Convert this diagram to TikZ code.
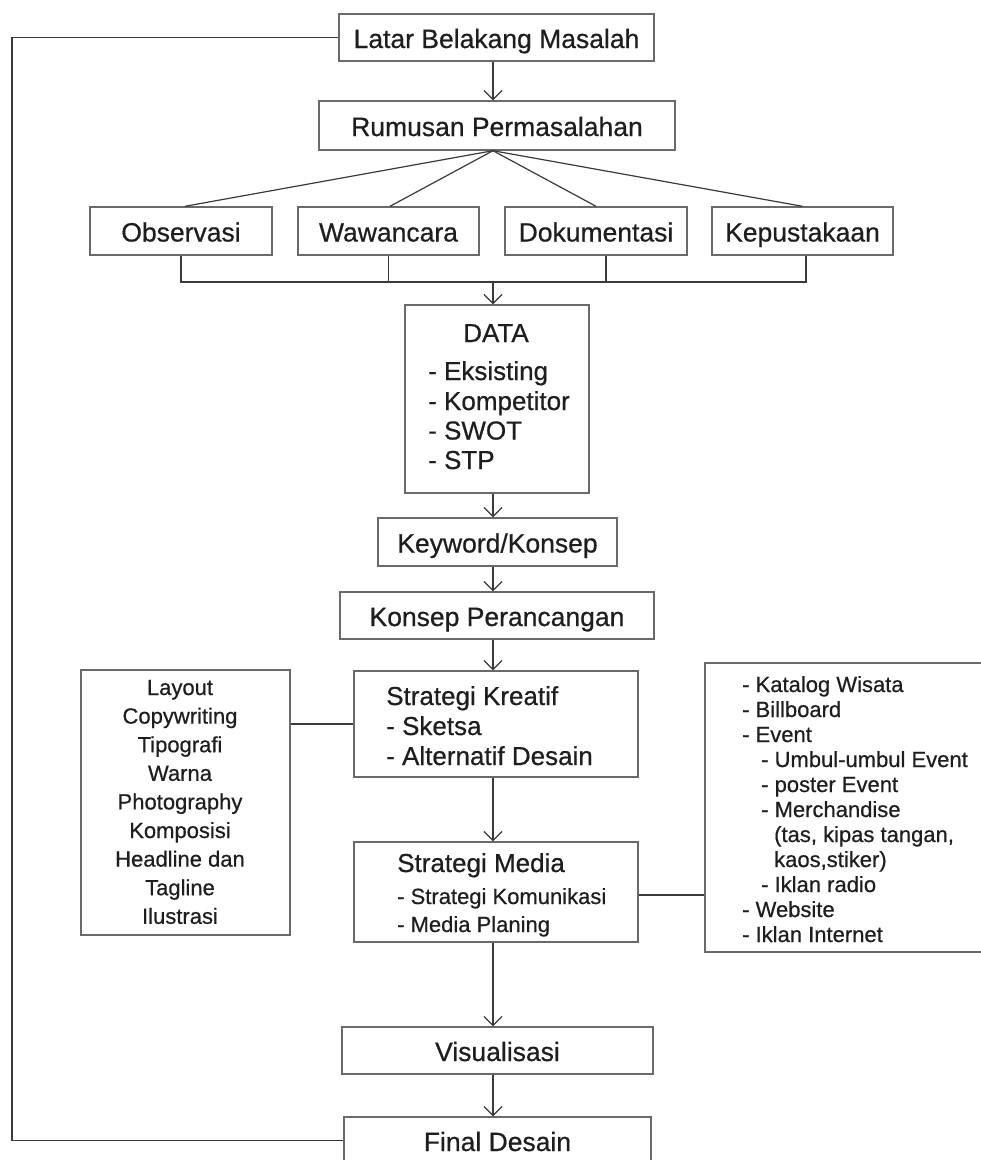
\documentclass[tikz,border=0pt]{standalone}
\usepackage{fontspec}
\setmainfont{Liberation Sans}[FakeBold=0.6]
\usetikzlibrary{arrows.meta}
\definecolor{boxgray}{HTML}{6A6A6A}
\definecolor{linegray}{HTML}{3A3A3A}
\definecolor{txtcol}{HTML}{1E1E1E}
\begin{document}
\begin{tikzpicture}[x=1pt,y=-1pt,
  box/.style={draw=boxgray, line width=1.4pt, inner sep=0pt, text=txtcol,
    font=\fontsize{26.5}{30}\selectfont, text height=22pt, text depth=1pt},
  conn/.style={draw=linegray, line width=1.2pt},
  arr/.style={conn, -{Straight Barb[length=9pt,width=18pt]}},
  lbl/.style={inner sep=0pt, anchor=base west, text=txtcol},
  big/.style={font=\fontsize{26}{30}\selectfont},
  small/.style={font=\fontsize{22}{25}\selectfont}]
\useasboundingbox (0,0) rectangle (981,1160);

% boxes
\node[box, minimum width=315pt, minimum height=47pt] (lbm) at (496.5,37.5) {Latar Belakang Masalah};
\node[box, minimum width=356pt, minimum height=49pt] (rp) at (497,125.5) {Rumusan Permasalahan};
\node[box, minimum width=182pt, minimum height=48pt] (obs) at (181,231) {Observasi};
\node[box, minimum width=181pt, minimum height=48pt] (waw) at (388.5,231) {Wawancara};
\node[box, minimum width=182pt, minimum height=48pt] (dok) at (596,231) {Dokumentasi};
\node[box, minimum width=181pt, minimum height=48pt] (kep) at (802.5,231) {Kepustakaan};
\node[box, minimum width=184pt, minimum height=188pt] (data) at (497,399) {};
\node[box, minimum width=239pt, minimum height=48pt] (kw) at (497.5,542) {Keyword/Konsep};
\node[box, minimum width=314pt, minimum height=47pt] (kp) at (497,615.5) {Konsep Perancangan};
\node[box, minimum width=284pt, minimum height=106pt] (sk) at (496,724) {};
\node[box, minimum width=209pt, minimum height=265pt] (elem) at (185.5,802.5) {};
\node[box, minimum width=284pt, minimum height=100pt] (sm) at (496,892) {};
\node[box, minimum width=285pt, minimum height=289pt] (media) at (847.5,807.5) {};
\node[box, minimum width=311pt, minimum height=47pt] (vis) at (497.5,1050.5) {Visualisasi};
\node[box, minimum width=307pt, minimum height=47pt] (fd) at (497.5,1140.5) {Final Desain};

% texts in DATA
\node[lbl, big, anchor=base] (dt0) at (496,342) {DATA};
\node[lbl, big] (dt1) at (428,380) {- Eksisting};
\node[lbl, big] (dt2) at (428,410) {- Kompetitor};
\node[lbl, big] (dt3) at (428,439.5) {- SWOT};
\node[lbl, big] (dt4) at (428,469) {- STP};

% Strategi Kreatif
\node[lbl, big] (sk0) at (386,705) {Strategi Kreatif};
\node[lbl, big] (sk1) at (386,735) {- Sketsa};
\node[lbl, big] (sk2) at (386,765) {- Alternatif Desain};

% Strategi Media
\node[lbl, big] (sm0) at (397,872) {Strategi Media};
\node[lbl, small] (sm1) at (397,904) {- Strategi Komunikasi};
\node[lbl, small] (sm2) at (397,932) {- Media Planing};

% element list
\foreach \t [count=\i from 0] in {Layout,Copywriting,Tipografi,Warna,Photography,Komposisi,Headline dan,Tagline,Ilustrasi}
  \node[lbl, small, anchor=base] (el\i) at (180,{695+28.6*\i}) {\t};

% media list
\node[lbl, small] (m1) at (742,692) {- Katalog Wisata};
\node[lbl, small] (m2) at (742,717) {- Billboard};
\node[lbl, small] (m3) at (742,742) {- Event};
\node[lbl, small] (m4) at (761,767) {- Umbul-umbul Event};
\node[lbl, small] (m5) at (761,792) {- poster Event};
\node[lbl, small] (m6) at (761,817) {- Merchandise};
\node[lbl, small] (m7) at (774,842) {(tas, kipas tangan,};
\node[lbl, small] (m8) at (774,867) {kaos,stiker)};
\node[lbl, small] (m9) at (761,892) {- Iklan radio};
\node[lbl, small] (m10) at (742,917) {- Website};
\node[lbl, small] (m11) at (742,942) {- Iklan Internet};

% helper coordinates
\coordinate (spine) at (493,0);
\coordinate (back) at (12,0);
\coordinate (hbar) at (0,282);
\coordinate (obstop) at ([xshift=4pt]obs.north);
\coordinate (wawtop) at ([xshift=1.5pt]waw.north);
\coordinate (dokdrop) at ([xshift=10pt]dok.south);
\coordinate (kepdrop) at ([xshift=3.5pt]kep.south);

% connectors
\draw[arr] (lbm.south -| spine) -- (rp.north -| spine);
\draw[conn] (rp.south -| spine) -- (obstop);
\draw[conn] (rp.south -| spine) -- (wawtop);
\draw[conn] (rp.south -| spine) -- (dok.north);
\draw[conn] (rp.south -| spine) -- (kep.north);
\draw[conn] (obs.south) -- (obs.south |- hbar) -- (kepdrop |- hbar) -- (kepdrop);
\draw[conn] (waw.south) -- (waw.south |- hbar);
\draw[conn] (dokdrop) -- (dokdrop |- hbar);
\draw[arr] (spine |- hbar) -- (data.north -| spine);
\draw[arr] (data.south -| spine) -- (kw.north -| spine);
\draw[arr] (kw.south -| spine) -- (kp.north -| spine);
\draw[arr] (kp.south -| spine) -- (sk.north -| spine);
\draw[arr] (sk.south -| spine) -- (sm.north -| spine);
\draw[arr] (sm.south -| spine) -- (vis.north -| spine);
\draw[arr] (vis.south -| spine) -- (fd.north -| spine);
\draw[conn] (sk.west -| elem.east) -- (sk.west);
\draw[conn] ([yshift=-3pt]sm.east) -- ([yshift=-3pt]sm.east -| media.west);
\draw[conn] (lbm.west) -- (lbm.west -| back) |- (fd.west);
\end{tikzpicture}
\end{document}
